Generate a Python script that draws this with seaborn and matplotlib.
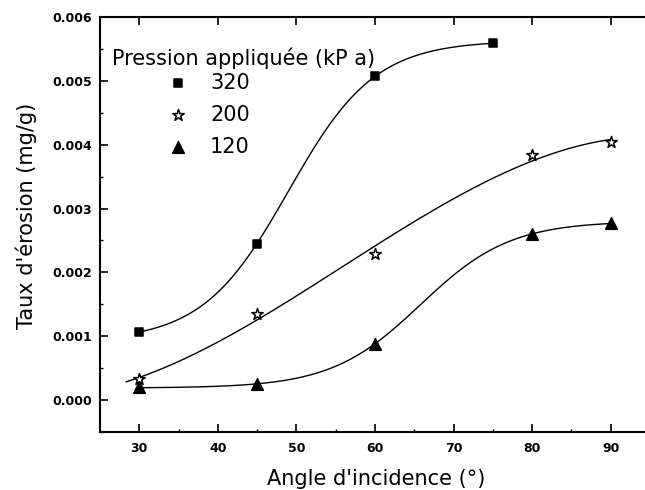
import numpy as np
import pandas as pd
import matplotlib
matplotlib.use("Agg")
import matplotlib.pyplot as plt
import seaborn as sns

# ---- data ----
angles_320 = [30, 45, 60, 75]
rate_320 = [0.00107, 0.00245, 0.00507, 0.00559]
angles_200 = [30, 45, 60, 80, 90]
rate_200 = [0.00033, 0.00135, 0.00229, 0.00384, 0.00404]
angles_120 = [30, 45, 60, 80, 90]
rate_120 = [0.00020, 0.00025, 0.00088, 0.00260, 0.00277]
pressure_labels = ["320", "200", "120"]
legend_title = "Pression appliquée (kP a)"
x_ticks = [30, 40, 50, 60, 70, 80, 90]
y_ticks = [0.000, 0.001, 0.002, 0.003, 0.004, 0.005, 0.006]

sns.set_theme(style="ticks")
plt.rcParams['font.family'] = ['DejaVu Sans']
for k in ["text.color", "axes.labelcolor", "xtick.color", "ytick.color", "axes.edgecolor"]:
    plt.rcParams[k] = "black"


def boltzmann_fit(x, y):
    """Least-squares Boltzmann sigmoid fit (grid search on x0, dx; linear in A1, A2)."""
    x = np.asarray(x, float); y = np.asarray(y, float)
    best = None
    for x0 in np.linspace(35, 85, 251):
        for dx in np.linspace(1.5, 25, 236):
            f = 1.0 / (1.0 + np.exp((x - x0) / dx))
            B = np.column_stack([f, 1 - f])
            coef, *_ = np.linalg.lstsq(B, y, rcond=None)
            r = np.sum((B @ coef - y) ** 2)
            if best is None or r < best[0]:
                best = (r, x0, dx, coef)
    _, x0, dx, (a1, a2) = best
    return lambda t: a2 + (a1 - a2) / (1.0 + np.exp((t - x0) / dx))


f320 = boltzmann_fit(angles_320, rate_320)
f120 = boltzmann_fit(angles_120, rate_120)
coef200 = np.polyfit(angles_200, rate_200, 3)

xs320 = np.linspace(angles_320[0], angles_320[-1], 300)
ys320 = f320(xs320)
xs120 = np.linspace(angles_120[0], angles_120[-1], 300)
ys120 = f120(xs120)
xs200 = np.linspace(28.3, 90, 300)
ys200 = np.polyval(coef200, xs200)

fig = plt.figure(figsize=(6.45, 4.9), dpi=100)
ax = fig.add_axes([100/645, 58/490, 550/645, 415/490])

for xs, ys in [(xs320, ys320), (xs200, ys200), (xs120, ys120)]:
    sns.lineplot(x=xs, y=ys, ax=ax, color="black", linewidth=1.0, legend=False)

df = pd.concat([
    pd.DataFrame({"x": angles_320, "y": rate_320, "p": pressure_labels[0]}),
    pd.DataFrame({"x": angles_200, "y": rate_200, "p": pressure_labels[1]}),
    pd.DataFrame({"x": angles_120, "y": rate_120, "p": pressure_labels[2]}),
])
styles = {pressure_labels[0]: dict(marker="s", s=26, facecolor="black"),
          pressure_labels[1]: dict(marker="*", s=75, facecolor="white"),
          pressure_labels[2]: dict(marker="^", s=70, facecolor="black")}
for lab in pressure_labels:
    sub = df[df["p"] == lab]
    st = styles[lab]
    sns.scatterplot(data=sub, x="x", y="y", ax=ax, marker=st["marker"], s=st["s"],
                    color=st["facecolor"], edgecolor="black", linewidth=1.1,
                    label=lab, zorder=5)

ax.set_xlim(25, 95)
ax.set_ylim(-0.0005, 0.006)
ax.set_xticks(x_ticks)
ax.set_yticks(y_ticks)
ax.set_xticklabels([str(v) for v in x_ticks], fontsize=9, fontweight="bold")
ax.set_yticklabels([f"{v:.3f}" for v in y_ticks], fontsize=9, fontweight="bold")
ax.set_xticks([35, 45, 55, 65, 75, 85], minor=True)
ax.set_yticks([-0.0005, 0.0005, 0.0015, 0.0025, 0.0035, 0.0045, 0.0055], minor=True)
ax.tick_params(which="major", direction="in", length=6, width=1.2, top=True, right=False)
ax.tick_params(axis="x", which="major", pad=7)
ax.tick_params(axis="y", which="major", pad=6)
ax.tick_params(which="minor", direction="in", length=2.5, width=1.0, top=False, right=False)
for sp in ["left", "bottom", "top"]:
    ax.spines[sp].set_linewidth(1.5)
ax.spines["right"].set_visible(False)

ax.set_xlabel("Angle d'incidence (°)", fontsize=15)
ax.set_ylabel("Taux d'érosion (mg/g)", fontsize=15)
ax.xaxis.set_label_coords(0.502, -0.088)
ax.yaxis.set_label_coords(-0.115, 0.52)

# legend title and indented entries
fig.text(112/645, 1 - 58/490, legend_title, fontsize=15, ha="left", va="center")
leg = ax.legend(loc="upper left", bbox_to_anchor=(157/645, 1 - 72.5/490),
                bbox_transform=fig.transFigure, frameon=False, fontsize=15,
                handlelength=2.0, handletextpad=0.55, labelspacing=0.58,
                borderaxespad=0, borderpad=0)

fig.savefig("out.png", dpi=100)
